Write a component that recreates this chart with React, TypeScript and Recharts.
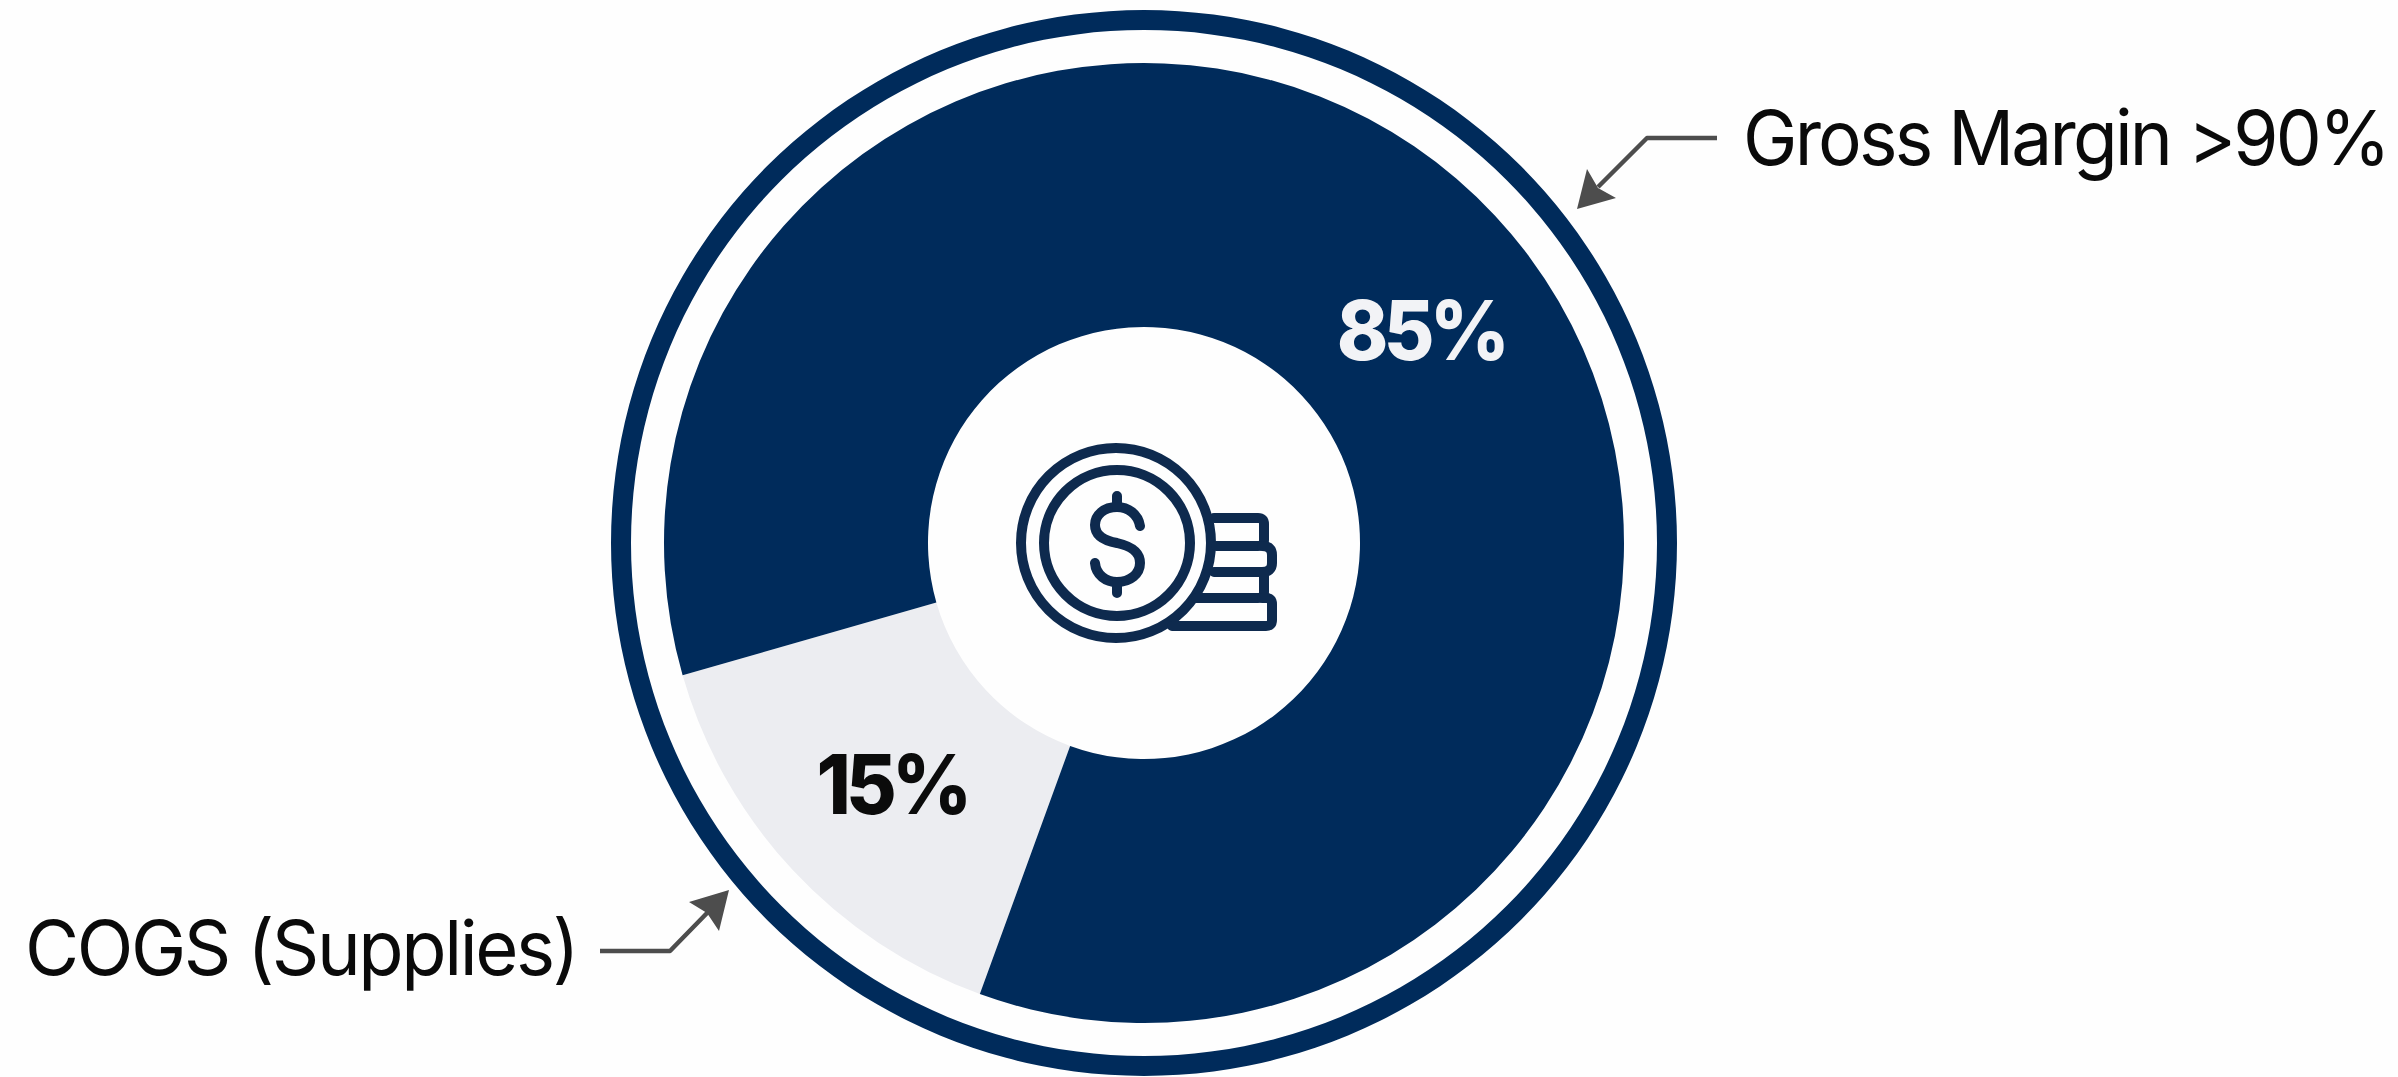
import React from 'react';
import { PieChart, Pie, Cell } from 'recharts';

const segmentNames = ['COGS', 'Gross'];
const segmentValues = [15, 85];
const segmentColors = ['#ecedf1', '#002b5b'];
const segmentLabelColors = ['#0b0b0b', '#f2f3f6'];
const ringValues = [100];

const segments = segmentNames.map((name, i) => ({ name, value: segmentValues[i] }));
const ring = ringValues.map((value) => ({ name: 'ring', value }));

const WIDTH = 2398;
const HEIGHT = 1077;
const CX = 1144;
const CY = 543;
const NAVY = '#002b5b';
const ICON = '#0e2a4e';
const ARROW = '#4d4d4d';
const FONT = 'Inter, "Liberation Sans", sans-serif';

// label anchor offsets from the centre, per segment
const labelOffsets = [
  { dx: -252, dy: 241 },
  { dx: 277, dy: -213 },
];

const renderPercent = ({ index, value }: any) => (
  <text
    transform={`translate(${CX + labelOffsets[index].dx} ${CY + labelOffsets[index].dy}) scale(0.95 1)`}
    fill={segmentLabelColors[index]}
    fontFamily={FONT}
    fontSize={82}
    fontWeight={800}
    letterSpacing={-5}
    textAnchor="middle"
    dominantBaseline="central"
  >
    {`${value}%`}
  </text>
);

const CoinIcon = () => (
  <g fill="none" stroke={ICON} strokeWidth={10} strokeLinecap="round" strokeLinejoin="round">
    <circle cx={1116} cy={543} r={95} />
    <circle cx={1117} cy={543} r={73} />
    <path d="M1140 526 C1138 514 1128 507 1117 507 C1104 507 1095 515 1095 525 C1095 537 1106 541 1117 543 C1130 546 1140 551 1140 563 C1140 574 1130 582 1117 582 C1106 582 1096 575 1095 563" />
    <path d="M1117 496 V507 M1117 582 V593" />
    <path d="M1214 518 H1258 Q1264 518 1264 524 V540 Q1264 546 1258 546 H1216" />
    <path d="M1262 546 Q1272 546 1272 555 V563 Q1272 572 1262 572 H1214" />
    <path d="M1264 572 V592 Q1264 598 1258 598 H1196" />
    <path d="M1262 598 H1266 Q1272 598 1272 604 V620 Q1272 626 1266 626 H1172" />
  </g>
);

const Callouts = () => (
  <g>
    <path d="M1717 138 H1647 L1598 187" fill="none" stroke={ARROW} strokeWidth={4.5} strokeLinejoin="round" />
    <path d="M1577 209 L1587 169 L1598 188 L1616 198 Z" fill={ARROW} />
    <path d="M600 951 H670 L709 911" fill="none" stroke={ARROW} strokeWidth={4.5} strokeLinejoin="round" />
    <path d="M729 890 L689 902 L707 913 L719 931 Z" fill={ARROW} />
    <text transform="translate(1743 165) scale(0.96 1)" fill="#0a0a0a" fontFamily={FONT} fontSize={76} letterSpacing={-2.9}>
      Gross Margin &gt;90%
    </text>
    <text transform="translate(25 975) scale(0.975 1)" fill="#0a0a0a" fontFamily={FONT} fontSize={76} letterSpacing={-2.5}>
      COGS (Supplies)
    </text>
  </g>
);

export default function App() {
  return (
    <div style={{ position: 'absolute', left: 0, top: 0, width: WIDTH, height: HEIGHT, background: '#fefefe', overflow: 'hidden' }}>
      <PieChart width={WIDTH} height={HEIGHT} margin={{ top: 0, right: 0, bottom: 0, left: 0 }}>
        {/* thin outer ring */}
        <Pie
          data={ring}
          dataKey="value"
          cx={CX}
          cy={CY}
          innerRadius={513}
          outerRadius={533}
          stroke="none"
          fill={NAVY}
          isAnimationActive={false}
        />
        <Pie
          data={segments}
          dataKey="value"
          cx={CX}
          cy={CY}
          innerRadius={216}
          outerRadius={480}
          startAngle={196}
          endAngle={556}
          stroke="none"
          label={renderPercent}
          labelLine={false}
          isAnimationActive={false}
        >
          {segments.map((s, i) => (
            <Cell key={s.name} fill={segmentColors[i]} />
          ))}
        </Pie>
        <CoinIcon />
        <Callouts />
      </PieChart>
    </div>
  );
}
